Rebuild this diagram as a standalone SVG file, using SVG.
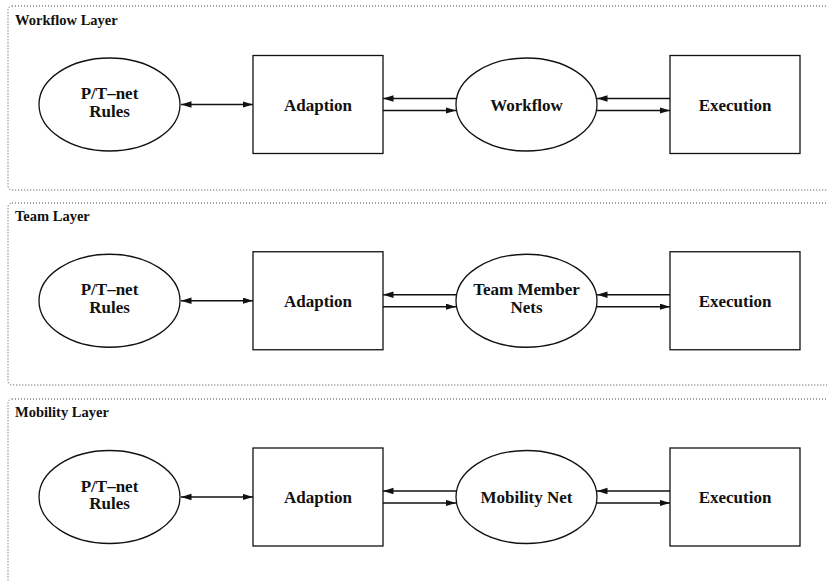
<svg xmlns="http://www.w3.org/2000/svg" width="827" height="581" viewBox="0 0 827 581">
<style>
.layer{fill:none;stroke:#444;stroke-width:1;stroke-dasharray:1 2}
.shape{fill:#fff;stroke:#111;stroke-width:1.3}
.lbl{font-family:"Liberation Serif","Times New Roman",serif;font-weight:bold;font-size:17px;fill:#111;text-anchor:middle}
.ttl{font-family:"Liberation Serif","Times New Roman",serif;font-weight:bold;font-size:14.5px;fill:#111}
.conn{fill:none;stroke:#111;stroke-width:1.3}
</style>
<defs>
<marker id="ah" markerWidth="11" markerHeight="7" refX="10.5" refY="3.25" orient="auto-start-reverse" markerUnits="userSpaceOnUse">
<path d="M0,0 L10.5,3.25 L0,6.5 z" fill="#111"/>
</marker>
</defs>

<g id="layers">
<rect id="workflow-layer" class="layer" x="8" y="6" width="900" height="184" rx="4"/>
<rect id="team-layer" class="layer" x="8" y="203" width="900" height="182" rx="4"/>
<rect id="mobility-layer" class="layer" x="8" y="399" width="900" height="250" rx="4"/>
<text class="ttl" x="15" y="25">Workflow Layer</text>
<text class="ttl" x="15" y="221">Team Layer</text>
<text class="ttl" x="15" y="417">Mobility Layer</text>
</g>

<g id="connectors">
<g transform="translate(0,0)">
<line class="conn" x1="181" y1="104.5" x2="253" y2="104.5" marker-start="url(#ah)" marker-end="url(#ah)"/>
<line class="conn" x1="456" y1="98.5" x2="383" y2="98.5" marker-end="url(#ah)"/>
<line class="conn" x1="383" y1="110.5" x2="456" y2="110.5" marker-end="url(#ah)"/>
<line class="conn" x1="670" y1="98.5" x2="597" y2="98.5" marker-end="url(#ah)"/>
<line class="conn" x1="597" y1="110.5" x2="670" y2="110.5" marker-end="url(#ah)"/>
</g>
<g transform="translate(0,196.25)">
<line class="conn" x1="181" y1="104.5" x2="253" y2="104.5" marker-start="url(#ah)" marker-end="url(#ah)"/>
<line class="conn" x1="456" y1="98.5" x2="383" y2="98.5" marker-end="url(#ah)"/>
<line class="conn" x1="383" y1="110.5" x2="456" y2="110.5" marker-end="url(#ah)"/>
<line class="conn" x1="670" y1="98.5" x2="597" y2="98.5" marker-end="url(#ah)"/>
<line class="conn" x1="597" y1="110.5" x2="670" y2="110.5" marker-end="url(#ah)"/>
</g>
<g transform="translate(0,392.5)">
<line class="conn" x1="181" y1="104.5" x2="253" y2="104.5" marker-start="url(#ah)" marker-end="url(#ah)"/>
<line class="conn" x1="456" y1="98.5" x2="383" y2="98.5" marker-end="url(#ah)"/>
<line class="conn" x1="383" y1="110.5" x2="456" y2="110.5" marker-end="url(#ah)"/>
<line class="conn" x1="670" y1="98.5" x2="597" y2="98.5" marker-end="url(#ah)"/>
<line class="conn" x1="597" y1="110.5" x2="670" y2="110.5" marker-end="url(#ah)"/>
</g>
</g>

<g id="wf-rules"><ellipse class="shape" cx="109.5" cy="104.5" rx="70.5" ry="46.5"/><text class="lbl" x="109.5" y="99">P/T–net</text><text class="lbl" x="109.5" y="116.5">Rules</text></g>
<g id="wf-adaption"><rect class="shape" x="253" y="55.5" width="130" height="98"/><text class="lbl" x="318" y="110.5">Adaption</text></g>
<g id="wf-workflow"><ellipse class="shape" cx="526.5" cy="104.5" rx="70.5" ry="46.5"/><text class="lbl" x="526.5" y="110.5">Workflow</text></g>
<g id="wf-execution"><rect class="shape" x="670" y="55.5" width="130" height="98"/><text class="lbl" x="735" y="110.5">Execution</text></g>

<g id="team-rules"><ellipse class="shape" cx="109.5" cy="300.75" rx="70.5" ry="46.5"/><text class="lbl" x="109.5" y="295.25">P/T–net</text><text class="lbl" x="109.5" y="312.75">Rules</text></g>
<g id="team-adaption"><rect class="shape" x="253" y="251.75" width="130" height="98"/><text class="lbl" x="318" y="306.75">Adaption</text></g>
<g id="team-nets"><ellipse class="shape" cx="526.5" cy="300.75" rx="70.5" ry="46.5"/><text class="lbl" x="526.5" y="294.5">Team Member</text><text class="lbl" x="526.5" y="312.5">Nets</text></g>
<g id="team-execution"><rect class="shape" x="670" y="251.75" width="130" height="98"/><text class="lbl" x="735" y="306.75">Execution</text></g>

<g id="mob-rules"><ellipse class="shape" cx="109.5" cy="497" rx="70.5" ry="46.5"/><text class="lbl" x="109.5" y="491.5">P/T–net</text><text class="lbl" x="109.5" y="509">Rules</text></g>
<g id="mob-adaption"><rect class="shape" x="253" y="448" width="130" height="98"/><text class="lbl" x="318" y="503">Adaption</text></g>
<g id="mob-net"><ellipse class="shape" cx="526.5" cy="497" rx="70.5" ry="46.5"/><text class="lbl" x="526.5" y="503">Mobility Net</text></g>
<g id="mob-execution"><rect class="shape" x="670" y="448" width="130" height="98"/><text class="lbl" x="735" y="503">Execution</text></g>
</svg>
